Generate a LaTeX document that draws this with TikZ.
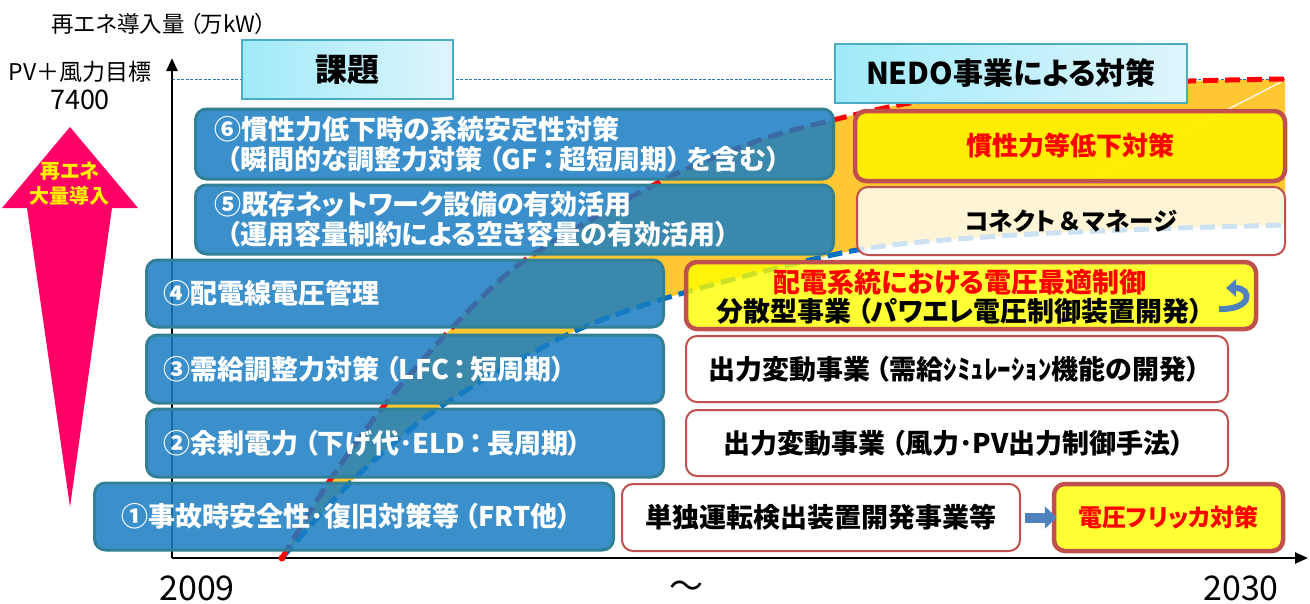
\documentclass[tikz,border=0pt]{standalone}
\usepackage{fontspec}
\setmainfont{Noto Sans CJK JP}[RawFeature=+palt]
\usetikzlibrary{arrows.meta}
\newcommand\jlp{\hspace{0.22em}（}
\newcommand\jrp{）\hspace{0.22em}}
\newcommand\jcl{\hspace{0.15em}：\hspace{0.15em}}
\newcommand\jamp{\hspace{0.15em}＆\hspace{0.15em}}
\definecolor{boxblue}{RGB}{25,125,195}
\definecolor{boxedge}{RGB}{49,128,150}
\definecolor{redge}{RGB}{192,80,77}
\definecolor{fillorange}{RGB}{255,200,50}
\definecolor{curvered}{RGB}{255,0,0}
\definecolor{curveblue}{RGB}{0,112,192}
\definecolor{pinkarrow}{RGB}{255,0,102}
\definecolor{titleedge}{RGB}{75,172,198}
\definecolor{titleL}{RGB}{160,234,250}
\definecolor{titleR}{RGB}{222,245,253}
\definecolor{ybox}{RGB}{255,255,0}
\definecolor{ybright}{RGB}{255,240,0}
\definecolor{refline}{RGB}{46,117,182}
\definecolor{blockarrow}{RGB}{79,129,189}
\tikzset{
  titlebox/.style={draw=titleedge, line width=1.5pt, left color=titleL, right color=titleR, inner sep=0pt},
  issue/.style={draw=boxedge, line width=3pt, fill=boxblue, fill opacity=0.85, text opacity=1,
    rounded corners=11pt, text=white, font=\bfseries\fontsize{27}{30}\selectfont,
    align=left, anchor=west, inner ysep=0pt},
  measure/.style={draw=redge, rounded corners=11pt, font=\bfseries\fontsize{27}{30}\selectfont,
    align=center, inner sep=0pt},
  thickbox/.style={measure, line width=4.5pt, fill=ybox, fill opacity=0.8, text opacity=1},
  thinbox/.style={measure, line width=2pt, fill=white},
  curve/.style={line width=5pt, dash pattern=on 15pt off 7pt},
  axis/.style={line width=2.5pt, -{Triangle[width=11pt,length=13pt]}},
  yearlabel/.style={font=\fontsize{34}{36}\selectfont}
}
\begin{document}
\begin{tikzpicture}[x=1pt,y=-1pt]
\path[use as bounding box, fill=white] (0,0) rectangle (1310,603);

% pink arrow
\fill[pinkarrow] (70,127) -- (138,208) -- (112,208) -- (70,507) -- (27,208) -- (2,208) -- cycle;
\node[font=\bfseries\fontsize{20}{25}\selectfont, text=yellow, align=center] (boost) at (70,184) {再エネ\\大量導入};

% top-left labels
\node[font=\fontsize{22.5}{26}\selectfont] (ylabel) at (159,24) {再エネ導入量\jlp 万kW\jrp};
\node[font=\fontsize{23}{26}\selectfont] (target) at (80,72) {PV＋風力目標};
\node[font=\fontsize{27}{30}\selectfont] (target2) at (80,100) {7400};

% orange region between curves
\fill[fillorange] plot[smooth] coordinates {(282,558) (330,480) (383,407) (448,332) (525,260) (663,180) (760,140) (833,120) (910,103) (1000,93) (1100,86) (1190,81) (1285,79)}
  -- (1285,225) -- plot[smooth] coordinates {(1285,225) (1150,229) (1000,236) (857,250) (690,291) (573,332) (440,407) (353,480) (282,558)} -- cycle;
\draw[white, line width=1.2pt] (1285,80) -- (1090,180);

% axes and reference line
\coordinate (O) at (172,558);
\coordinate (Ytop) at (172,58);
\coordinate (Xend) at (1308,558);
\coordinate (R0) at (172,79);
\coordinate (R1) at (1285,79);
\draw[refline, line width=1pt, dash pattern=on 3pt off 1.5pt] (R0) -- (R1);
\draw[axis] (O) -- (Ytop);
\draw[axis] (O) -- (Xend);

% curves
\draw[curve, curveblue] plot[smooth] coordinates {(282,558) (353,480) (440,407) (573,332) (690,291) (857,250) (1000,236) (1150,229) (1285,225)};
\draw[curve, curvered] plot[smooth] coordinates {(282,558) (330,480) (383,407) (448,332) (525,260) (663,180) (760,140) (833,120) (910,103) (1000,93) (1100,86) (1190,81) (1285,79)};
\fill[red] (282,558) circle (3.5);

% title boxes
\node[titlebox, minimum width=211pt, minimum height=59pt, font=\bfseries\fontsize{32}{34}\selectfont] (kadai) at (347.5,69.5) {課題};
\node[titlebox, minimum width=352pt, minimum height=59pt, font=\bfseries\fontsize{30}{34}\selectfont] (nedo) at (1011,73.5) {NEDO事業による対策};

% issue boxes
\node[issue, minimum width=638pt, minimum height=70pt, text width=600pt, inner xsep=19pt] (i6) at (194,144)
  {⑥慣性力低下時の系統安定性対策\\\hspace*{12pt}（瞬間的な調整力対策\jlp GF\jcl 超短周期\jrp を含む\jrp};
\node[issue, minimum width=638pt, minimum height=69pt, text width=600pt, inner xsep=19pt] (i5) at (194,219.5)
  {⑤既存ネットワーク設備の有効活用\\\hspace*{12pt}（運用容量制約による空き容量の有効活用\jrp};
\node[issue, minimum width=517pt, minimum height=67pt, text width=483pt, inner xsep=17pt] (i4) at (145,293.5) {④配電線電圧管理};
\node[issue, minimum width=517pt, minimum height=68pt, text width=483pt, inner xsep=17pt] (i3) at (145,369) {③需給調整力対策\jlp LFC\jcl 短周期\jrp};
\node[issue, minimum width=517pt, minimum height=68pt, text width=483pt, inner xsep=17pt] (i2) at (145,443) {②余剰電力\jlp 下げ代･ELD\jcl 長周期\jrp};
\node[issue, minimum width=519pt, minimum height=67pt, text width=465pt, inner xsep=27pt] (i1) at (93,516.5) {①事故時安全性･復旧対策等\jlp FRT他\jrp};

% measure boxes
\node[thickbox, fill=ybright, fill opacity=0.93, text=red, minimum width=430pt, minimum height=70pt, font=\bfseries\fontsize{26}{30}\selectfont] (m6) at (1070,146) {慣性力等低下対策};
\node[thinbox, fill opacity=0.8, text opacity=1, minimum width=428pt, minimum height=68pt, font=\bfseries\fontsize{24.5}{30}\selectfont] (m5) at (1071,221) {コネクト\jamp マネージ};
\node[thickbox, minimum width=570pt, minimum height=67pt] (m4) at (971,295.5) {};
\node[font=\bfseries\fontsize{27}{29}\selectfont, align=center, inner sep=0pt] (m4t) at (960,297)
  {{\color{red}配電系統における電圧最適制御}\\分散型事業\jlp パワエレ電圧制御装置開発\jrp};
\node[thinbox, minimum width=542pt, minimum height=66pt] (m3) at (957,369) {出力変動事業\jlp 需給ｼﾐｭﾚｰｼｮﾝ機能の開発\jrp};
\node[thinbox, minimum width=542pt, minimum height=66pt] (m2) at (957,443) {出力変動事業\jlp 風力･PV出力制御手法\jrp};
\node[thinbox, minimum width=398pt, minimum height=67pt] (m1a) at (821,517.5) {単独運転検出装置開発事業等};
\node[thickbox, text=red, minimum width=229pt, minimum height=67pt, font=\bfseries\fontsize{24}{30}\selectfont] (m1b) at (1168.5,517.5) {電圧フリッカ対策};

% connectors / icons
\draw[blockarrow, line width=10pt, -{Triangle[width=22pt,length=12pt]}] ([xshift=4pt]m1a.east) -- ([xshift=5pt]m1b.west);
\draw[blockarrow, line width=6pt, -{Triangle[width=17pt,length=10pt]}] (1219,309) .. controls (1253,310) and (1252,288) .. (1226,288);

% year labels
\node[yearlabel] (y2009) at (197,588) {2009};
\node[yearlabel] (tilde) at (686,590) {～};
\node[yearlabel] (y2030) at (1241,588) {2030};
\end{tikzpicture}
\end{document}
